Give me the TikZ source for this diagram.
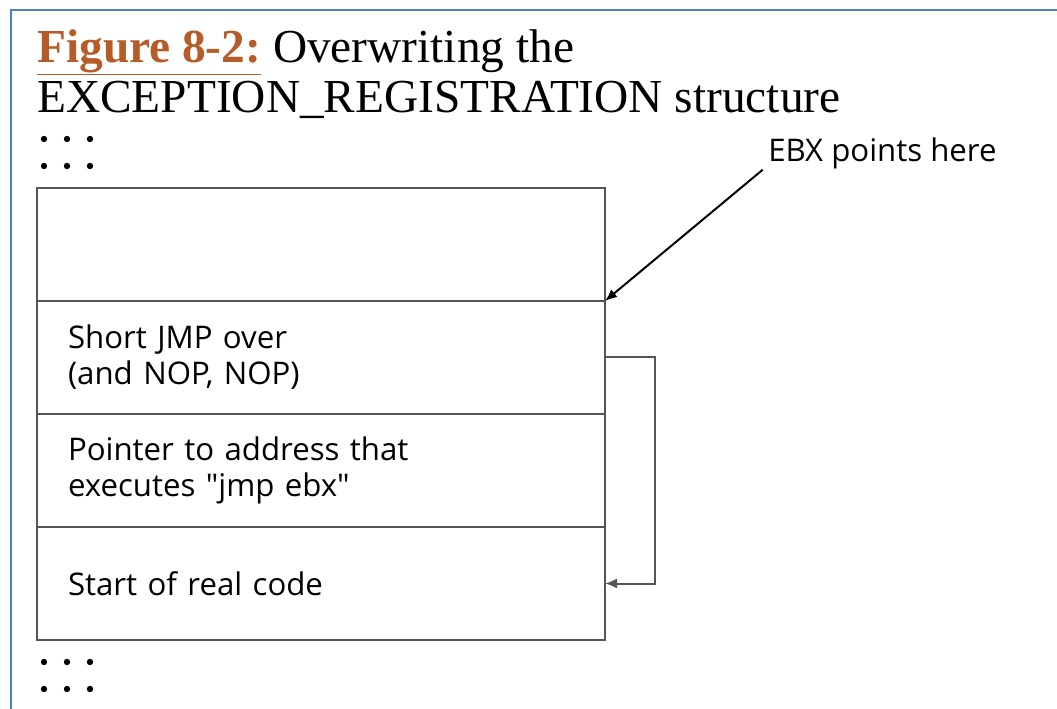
\documentclass[tikz,border=0pt]{standalone}
\usepackage{fontspec}
\setmainfont{Liberation Serif}
\newfontfamily\cellfont{Open Sans}
\usetikzlibrary{positioning,arrows.meta}

\definecolor{figorange}{RGB}{181,92,40}
\definecolor{frameblue}{RGB}{79,129,189}
\definecolor{boxgray}{RGB}{85,85,85}

\tikzset{
	cell/.style={draw=boxgray, line width=1.5pt, rectangle, outer sep=0pt, inner xsep=23.25pt, inner ysep=0pt,
		text width=379.5pt, minimum height=84.75pt, align=left, font=\cellfont\fontsize{23.4}{27}\selectfont},
	jump/.style={draw=boxgray, line width=1.5pt, -{Latex[length=9pt,width=7.5pt]}},
	dots/.style={fill=black}
}

\begin{document}
\begin{tikzpicture}[x=0.75pt,y=0.75pt,yscale=-1,xscale=1]
		\useasboundingbox (0,0) rectangle (1057,709);
		
		% frame
		\draw [color=frameblue, line width=1.5pt] (11,709) -- (11,10) -- (1057,10) ;
		
		% title
		\node [anchor=base west, inner sep=0pt, font=\fontsize{35.5}{38}\selectfont, align=left] (title) at (37,113)
			{\textcolor{figorange}{\bfseries\underline{Figure 8-2:}} Overwriting the\\EXCEPTION\_REGISTRATION structure};
		
		\fill [dots] (44,139) circle [radius=3.2] (67,139) circle [radius=3.2] (90,139) circle [radius=3.2] ;
		\fill [dots] (44,166) circle [radius=3.2] (67,166) circle [radius=3.2] (90,166) circle [radius=3.2] ;
		
		% stack
		\node [cell, anchor=north west] (top) at (37,188) {};
		\node [cell, below=0pt of top] (shortjmp) {Short JMP over\\(and NOP, NOP)};
		\node [cell, below=0pt of shortjmp] (pointer) {Pointer to address that\\executes "jmp ebx"};
		\node [cell, below=0pt of pointer] (realcode) {Start of real code};
		
		\fill [dots] (44,662) circle [radius=3.2] (67,662) circle [radius=3.2] (90,662) circle [radius=3.2] ;
		\fill [dots] (44,689) circle [radius=3.2] (67,689) circle [radius=3.2] (90,689) circle [radius=3.2] ;
		
		% pointers
		\node [anchor=base west, inner sep=0pt, font=\cellfont\fontsize{23.4}{27}\selectfont] (ebx) at (768,162) {EBX points here};
		\draw [jump, color=black] ([xshift=-4pt]ebx.south west) -- (top.south east) ;
		\draw [jump] (shortjmp.east) -- ++(50,0) |- (realcode.east) ;
		
\end{tikzpicture}
\end{document}
